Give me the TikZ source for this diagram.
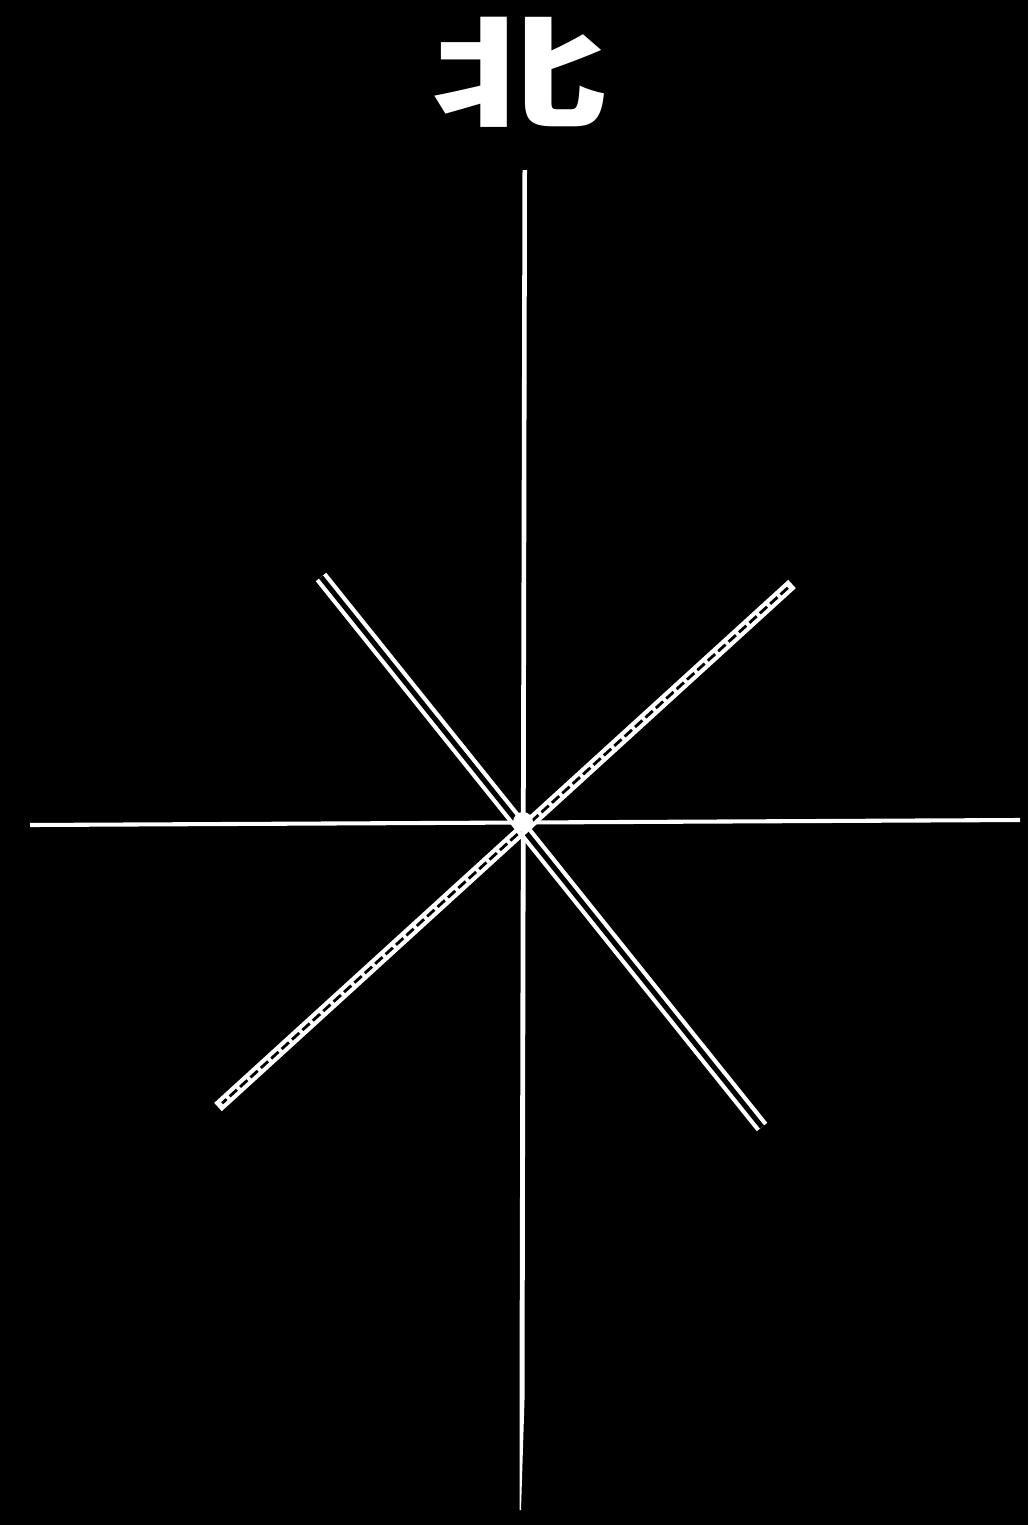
\documentclass[tikz,border=0pt]{standalone}
\usepackage{fontspec}
\newfontfamily\cjk{Noto Sans CJK SC}
\begin{document}
\begin{tikzpicture}[x=0.025cm,y=-0.025cm,
  axis/.style={white, line width=2.9pt},
  dbl/.style={draw=white, line width=3pt, double=black, double distance=3.6pt},
  chain/.style={white, line width=8pt},
  chaininner/.style={black, line width=2pt, dash pattern=on 7pt off 3pt},
  label/.style={text=white, font=\cjk\bfseries\fontsize{62}{62}\selectfont, inner sep=0pt}]
\fill[black] (0,0) rectangle (1028,1525);
\useasboundingbox (0,0) rectangle (1028,1525);
% coordinates
\coordinate (N) at (525,170);
\coordinate (S) at (520,1510);
\coordinate (W) at (30,825);
\coordinate (E) at (1020,820);
\coordinate (NW) at (321,577);
\coordinate (SE) at (762,1127);
\coordinate (NE) at (792,584);
\coordinate (SW) at (218,1107);
% title
\node[label, xscale=2.0, yscale=1.37] (north) at (520,72) {北};
% axes
\draw[axis] (W) -- (E);
\fill[white] (522.5,170) -- (527,170) -- (524.5,1400) -- (521,1510) -- (519.5,1510) -- (519.5,1400) -- cycle;
% diagonals
\draw[dbl] (NW) -- (SE);
\draw[chain] (NE) -- (SW);
\draw[chaininner, shorten <=4pt, shorten >=4pt] (NE) -- (SW);
\fill[white] (523,822) circle (10);
\end{tikzpicture}
\end{document}
